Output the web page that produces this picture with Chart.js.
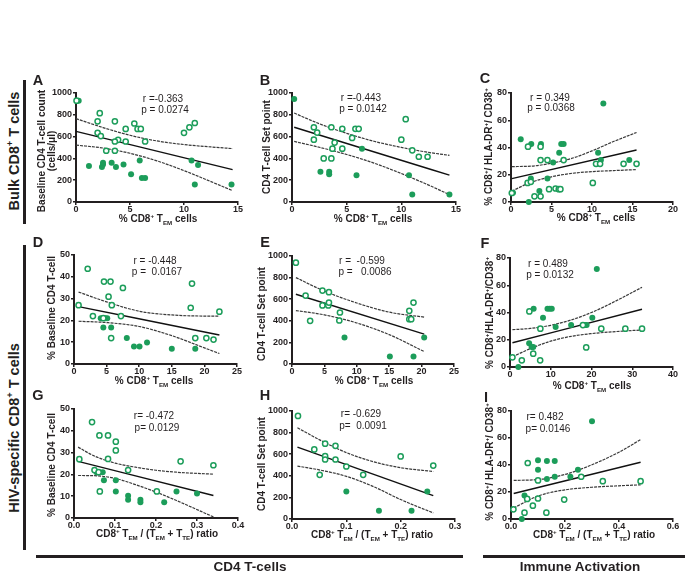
<!DOCTYPE html>
<html>
<head>
<meta charset="utf-8">
<script src="https://cdn.jsdelivr.net/npm/chart.js@4.4.0/dist/chart.umd.min.js"></script>
<style>
  body { margin: 0; background: #fff; }
  #page { position: relative; width: 689px; height: 575px; overflow: hidden; font-family: "Liberation Sans", Arial, sans-serif; color: #231f20; }
  canvas { position: absolute; }
  .t { position: absolute; white-space: pre; line-height: 1; transform: translate(-50%, -50%); text-align: center; }
  .v { transform: translate(-50%, -50%) rotate(-90deg); }
  .b { font-weight: bold; }
  sup, sub { font-size: 0.62em; line-height: 0; }
  .bar { position: absolute; background: #231f20; }
</style>
</head>
<body>
<div id="page"></div>
<script>
// ---- data: [x, y] ----
// A: bulk TEM % vs baseline CD4 count
const aOpen = [[0.05,930],[2.2,815],[2.0,740],[3.6,740],[5.4,720],[4.6,670],[5.7,670],[6.0,670],[2.0,635],[2.3,605],[3.9,570],[3.6,555],[4.6,555],[6.4,555],[2.8,470],[3.6,470],[10.0,635],[10.5,685],[11.0,725]];
const aFilled = [[0.25,930],[1.2,330],[2.4,320],[2.5,345],[2.5,360],[3.3,360],[3.7,320],[4.4,345],[5.1,255],[5.9,380],[6.1,220],[6.4,220],[10.7,380],[11.3,340],[11.0,160],[14.4,160]];
const aFit = [[0,648],[14.5,297]];
const aUpper = [[0,765],[2.5,683],[5,612],[7.5,560],[10,527],[12.5,505],[14.5,490]];
const aLower = [[0,522],[2.5,495],[5,447],[7.5,377],[10,288],[12.5,187],[14.5,104]];

// B: bulk TEM % vs CD4 set point
const bOpen = [[2.0,686],[2.3,637],[2.0,572],[3.6,686],[4.6,671],[5.5,588],[5.8,671],[6.1,671],[3.9,545],[3.7,489],[4.6,489],[2.9,400],[3.6,400],[10.0,572],[10.4,760],[11.0,474],[11.6,415],[12.4,415]];
const bFilled = [[0.2,945],[2.6,277],[3.4,277],[3.4,255],[5.9,246],[6.4,489],[10.7,246],[11.0,68],[14.4,68]];
const bFit = [[0.2,686],[14.4,246]];
const bUpper = [[0.2,816],[2.5,718],[5,630],[7.5,557],[10,501],[12.5,455],[14.4,428]];
const bLower = [[0.2,556],[2.5,502],[5,436],[7.5,357],[10,261],[12.5,155],[14.4,68]];

// C: bulk TEM % vs HLA-DR+/CD38+
const cOpen = [[0.1,6.6],[2.1,40.6],[3.65,40.6],[3.65,30.8],[4.5,30.8],[6.5,30.8],[2.05,14],[2.45,14.8],[2.9,4.2],[3.65,4.2],[4.7,9.4],[5.5,9.9],[5.9,9.4],[6.1,9.4],[10.1,14],[10.5,28],[11.0,28],[13.9,28],[15.5,28]];
const cFilled = [[0.25,6.8],[1.2,46],[2.5,42.6],[3.7,42.6],[5.95,36.2],[6.2,42.6],[6.5,42.6],[5.2,29],[2.45,17.2],[3.5,8.1],[4.5,17.2],[2.2,0],[10.75,36.2],[11.4,72.3],[11.1,30.8],[14.6,30.8]];
const cFit = [[0.1,17.2],[15.5,38.2]];
const cUpper = [[0.1,26],[2.5,26.3],[5,28.5],[7.5,32],[10,37.5],[12.5,44],[15.5,51]];
const cLower = [[0.1,8],[2.5,14.5],[5,18.5],[7.5,21],[10,22.3],[12.5,23],[15.5,23.8]];

// D: HIV-specific TEM % vs % baseline CD4
const dOpen = [[0.7,27],[2.1,43.7],[2.9,22],[4.6,37.8],[5.6,37.8],[7.5,34.9],[5.3,30.9],[5.8,27],[7.2,22],[5.7,11.9],[18.1,36.9],[17.9,25.8],[22.3,24],[18.6,11.9],[20.3,11.9],[21.4,11.2],[4.5,21]];
const dFilled = [[4.1,21],[4.8,21],[5.1,21],[4.5,16.8],[5.7,16.8],[8.1,11.9],[9.2,8],[10.05,8],[11.2,9.9],[15,7],[18.6,7]];
const dFit = [[0.7,26.3],[22.3,13.3]];
const dUpper = [[0.7,33],[5,28.5],[10,24.2],[15,22.5],[20,22],[22.3,22]];
const dLower = [[0.7,19.6],[5,19],[10,17.2],[15,13],[20,7.4],[22.3,4.8]];

// E: HIV-specific TEM % vs CD4 set point
const eOpen = [[0.6,938],[2.1,634],[2.8,400],[4.7,680],[5.7,665],[4.7,542],[5.6,542],[5.7,569],[7.4,477],[7.3,403],[18.75,569],[18.1,492],[18.1,415],[18.4,415]];
const eFilled = [[8.1,246],[15.1,70],[18.75,70],[20.4,246]];
const eFit = [[0.6,646],[20.4,277]];
const eUpper = [[0.6,800],[5,675],[10,565],[15,480],[20.4,434]];
const eLower = [[0.6,495],[5,455],[10,380],[15,272],[20.4,115]];

// F: HIV-specific TEM % vs HLA-DR+/CD38+
const fOpen = [[4.75,40.8],[7.45,28.1],[17.9,30.8],[22.4,28.1],[28.3,28.1],[32.4,28.1],[18.7,14.4],[5.7,9.8],[7.4,4.9],[2.9,4.9],[0.6,7.1]];
const fFilled = [[21.3,71.9],[5.8,42.8],[9.2,42.8],[9.75,42.8],[10.25,42.8],[8.1,36.2],[11.2,29.3],[15,30.8],[18.4,30.8],[18.8,30.8],[20.2,36.2],[4.7,17.4],[5.3,14.7],[5.7,14.7],[2.05,0]];
const fFit = [[0.6,17.8],[32.4,42.4]];
const fUpper = [[0.6,27.4],[5,28.3],[10,30.6],[15,34.5],[20,40],[25,47],[32.4,58.5]];
const fLower = [[0.6,7.5],[5,13.5],[10,19],[15,22.5],[20,24.5],[25,25.8],[32.4,27.2]];

// G: TEM/(TEM+TTE) ratio vs % baseline CD4
const gOpen = [[0.044,44],[0.013,27],[0.062,37.9],[0.083,37.9],[0.102,35],[0.102,31],[0.083,27.1],[0.132,22],[0.05,22],[0.063,12.2],[0.202,12.2],[0.26,26],[0.34,24.2],[0.06,21]];
const gFilled = [[0.055,21],[0.07,21],[0.073,17.3],[0.102,17.3],[0.102,12.2],[0.132,10.2],[0.132,8.4],[0.162,8.4],[0.162,7.2],[0.22,7.2],[0.25,12.2],[0.30,11.2]];
const gFit = [[0.01,26],[0.34,10.3]];
const gUpper = [[0.01,32.5],[0.05,28.4],[0.1,25.2],[0.15,23.3],[0.2,21.9],[0.25,21],[0.34,20.1]];
const gLower = [[0.01,19.5],[0.05,19.4],[0.1,18.2],[0.15,15.3],[0.2,11.9],[0.25,8],[0.34,0.5]];

// H: ratio vs CD4 set point
const hOpen = [[0.011,954],[0.041,644],[0.051,409],[0.061,697],[0.08,678],[0.061,582],[0.061,551],[0.08,551],[0.1,486],[0.131,409],[0.2,579],[0.26,495]];
const hFilled = [[0.1,254],[0.16,77],[0.22,77],[0.249,254]];
const hFit = [[0.01,666],[0.26,217]];
const hUpper = [[0.01,845],[0.05,735],[0.1,615],[0.15,530],[0.2,475],[0.26,440]];
const hLower = [[0.01,490],[0.05,455],[0.1,395],[0.15,300],[0.2,180],[0.26,56]];

// I: ratio vs HLA-DR+/CD38+
const iOpen = [[0.062,41.5],[0.1,28.6],[0.26,31.3],[0.34,28],[0.48,28],[0.06,14.9],[0.1,15.2],[0.197,14.4],[0.081,9.9],[0.05,4.7],[0.131,4.7],[0.009,7.2]];
const iFilled = [[0.3,72.5],[0.1,43.5],[0.1,36.5],[0.133,43],[0.162,43],[0.133,29.6],[0.162,31.3],[0.22,31.3],[0.248,36.5],[0.05,17.4],[0.04,0]];
const iFit = [[0.01,18.9],[0.48,42]];
const iUpper = [[0.01,28.6],[0.1,29.2],[0.2,33],[0.3,40.2],[0.4,49.5],[0.48,58.8]];
const iLower = [[0.01,8.2],[0.1,17],[0.2,21.6],[0.3,23.5],[0.4,24.6],[0.48,25.3]];

// axis ranges: [max, step, decimals]
const xPct15 = [15, 5, 0], xPct20 = [20, 5, 0], xPct25 = [25, 5, 0], xPct40 = [40, 10, 0];
const xRatio4 = [0.4, 0.1, 1], xRatio3 = [0.3, 0.1, 1], xRatio6 = [0.6, 0.2, 1];
const yCount = [1000, 200, 0], yPct50 = [50, 10, 0], yPct80 = [80, 20, 0];

const stats = [
  ['r =-0.363', 'p = 0.0274'], ['r =-0.443', 'p = 0.0142'], ['r = 0.349', 'p = 0.0368'],
  ['r = -0.448', 'p =  0.0167'], ['r =  -0.599', 'p =   0.0086'], ['r = 0.489', 'p = 0.0132'],
  ['r= -0.472', 'p= 0.0129'], ['r= -0.629', 'p=  0.0091'], ['r= 0.482', 'p= 0.0146']
];

const GREEN = '#1c9d5a';
const INK = '#231f20';
const L = 40, T = 10, R = 16, B = 22;
const page = document.getElementById('page');
Chart.defaults.font.family = '"Liberation Sans", Arial, sans-serif';

const panels = [
  {left: 76, top: 93, w: 162, h: 109, x: xPct15, y: yCount, open: aOpen, filled: aFilled, fit: aFit, up: aUpper, lo: aLower},
  {left: 292, top: 93, w: 164, h: 109, x: xPct15, y: yCount, open: bOpen, filled: bFilled, fit: bFit, up: bUpper, lo: bLower},
  {left: 511, top: 93, w: 162, h: 109, x: xPct20, y: yPct80, open: cOpen, filled: cFilled, fit: cFit, up: cUpper, lo: cLower},
  {left: 74, top: 255, w: 163, h: 109, x: xPct25, y: yPct50, open: dOpen, filled: dFilled, fit: dFit, up: dUpper, lo: dLower},
  {left: 292, top: 256, w: 162, h: 108, x: xPct25, y: yCount, open: eOpen, filled: eFilled, fit: eFit, up: eUpper, lo: eLower},
  {left: 510, top: 258, w: 163, h: 109, x: xPct40, y: yPct80, open: fOpen, filled: fFilled, fit: fFit, up: fUpper, lo: fLower},
  {left: 74, top: 409, w: 164, h: 109, x: xRatio4, y: yPct50, open: gOpen, filled: gFilled, fit: gFit, up: gUpper, lo: gLower},
  {left: 292, top: 411, w: 163, h: 108, x: xRatio3, y: yCount, open: hOpen, filled: hFilled, fit: hFit, up: hUpper, lo: hLower},
  {left: 511, top: 411, w: 162, h: 108, x: xRatio6, y: yPct80, open: iOpen, filled: iFilled, fit: iFit, up: iUpper, lo: iLower}
];

function xy(p) { return {x: p[0], y: p[1]}; }

function axis(range, isX) {
  return {
    type: 'linear', min: 0, max: range[0],
    ticks: {
      stepSize: range[1], color: INK, padding: isX ? -1 : 1, autoSkip: false, maxRotation: 0,
      font: {size: 9, weight: 'bold'},
      callback: v => range[2] ? v.toFixed(range[2]) : v
    },
    grid: {display: true, drawOnChartArea: false, drawTicks: true, tickLength: 3, color: INK, lineWidth: 1.5},
    border: {display: true, color: INK, width: 2},
    afterFit: s => { if (isX) s.height = B; else s.width = L; }
  };
}

function curve(pts, dashed) {
  return {
    data: pts.map(xy), showLine: true, pointRadius: 0, fill: false, clip: false,
    borderColor: dashed ? '#3a3a3a' : '#111', borderWidth: dashed ? 1.2 : 1.4,
    borderDash: dashed ? [3, 1] : [], cubicInterpolationMode: 'monotone'
  };
}

panels.forEach(p => {
  const c = document.createElement('canvas');
  c.width = L + p.w + R;
  c.height = T + p.h + B;
  c.style.left = (p.left - L) + 'px';
  c.style.top = (p.top - T) + 'px';
  page.appendChild(c);
  new Chart(c, {
    type: 'scatter',
    data: {
      datasets: [
        {data: p.open.map(xy), pointRadius: 2.6, pointBorderWidth: 1.5, pointBackgroundColor: '#fff', pointBorderColor: GREEN, clip: false},
        {data: p.filled.map(xy), pointRadius: 3, pointBorderWidth: 0, pointBackgroundColor: GREEN, pointBorderColor: GREEN, clip: false},
        curve(p.fit, false),
        curve(p.up, true),
        curve(p.lo, true)
      ]
    },
    options: {
      responsive: false, animation: false, devicePixelRatio: 1, events: [],
      layout: {padding: {top: T, right: R, left: 0, bottom: 0}, autoPadding: false},
      plugins: {legend: {display: false}, tooltip: {enabled: false}},
      scales: {x: axis(p.x, true), y: axis(p.y, false)}
    }
  });
});

// ---- text ----
function text(x, y, html, size, cls) {
  const d = document.createElement('div');
  d.className = 't ' + (cls || '');
  d.style.left = x + 'px';
  d.style.top = y + 'px';
  d.style.fontSize = size + 'px';
  d.innerHTML = html;
  page.appendChild(d);
  return d;
}
function bar(x, y, w, h) {
  const d = document.createElement('div');
  d.className = 'bar';
  Object.assign(d.style, {left: x + 'px', top: y + 'px', width: w + 'px', height: h + 'px'});
  page.appendChild(d);
}

const letters = [['A',38,80],['B',265,80],['C',485,78],['D',38,242],['E',265,242],['F',485,243],['G',38,395],['H',265,395],['I',486,397]];
letters.forEach(l => text(l[1], l[2], l[0], 14.5, 'b'));

const statPos = [[163,99,165,109.5],[361,97.5,363,109],[550,97.5,551,107.5],[155,260.5,157,272],[362,260.5,365,272],[548,263.5,550,274.5],[154,415.5,157,427.5],[361,414,363,426],[545,417,548,428.5]];
stats.forEach((s, k) => {
  const q = statPos[k];
  text(q[0], q[1], s[0], 10);
  text(q[2], q[3], s[1], 10);
});

const tem = 'T<sub>EM</sub>';
const xPct = '% CD8<sup>+</sup> ' + tem + ' cells';
const xRat = 'CD8<sup>+</sup> ' + tem + ' / (' + tem + ' + T<sub>TE</sub>) ratio';
const yAct = '% CD8<sup>+</sup>/ HLA-DR<sup>+</sup>/ CD38<sup>+</sup>';
[[158,219,xPct],[373,219,xPct],[596,218,xPct],[154,381,xPct],[374,381,xPct],[592,386,xPct],[157,534,xRat],[372,535,xRat],[594,535,xRat]]
  .forEach(a => text(a[0], a[1], a[2], 10, 'b'));

const yt = text(45.5, 151, 'Baseline CD4 T-cell count\n(cells/μl)', 10, 'b v');
yt.style.lineHeight = '9.5px';
text(267, 147, 'CD4 T-cell Set point', 10, 'b v');
text(489, 147, yAct, 10, 'b v');
text(52, 308, '% Baseline CD4 T-cell', 10, 'b v');
text(262, 314, 'CD4 T-cell Set point', 10, 'b v');
text(490, 313, '% CD8<sup>+</sup>/HLA-DR<sup>+</sup>/CD38<sup>+</sup>', 10, 'b v');
text(52, 465, '% Baseline CD4 T-cell', 10, 'b v');
text(262, 464, 'CD4 T-cell Set point', 10, 'b v');
text(490, 462, yAct, 10, 'b v');

// section labels and brackets
text(14, 151, 'Bulk CD8<sup>+</sup> T cells', 14.5, 'b v');
text(14, 428, 'HIV-specific CD8<sup>+</sup> T cells', 14.5, 'b v');
bar(23, 80, 2.5, 144);
bar(23, 245, 2.5, 305);
bar(36, 555, 427, 2.5);
bar(483, 555, 202, 2.5);
text(250, 567, 'CD4 T-cells', 13.5, 'b');
text(580, 567, 'Immune Activation', 13.5, 'b');
</script>
</body>
</html>
